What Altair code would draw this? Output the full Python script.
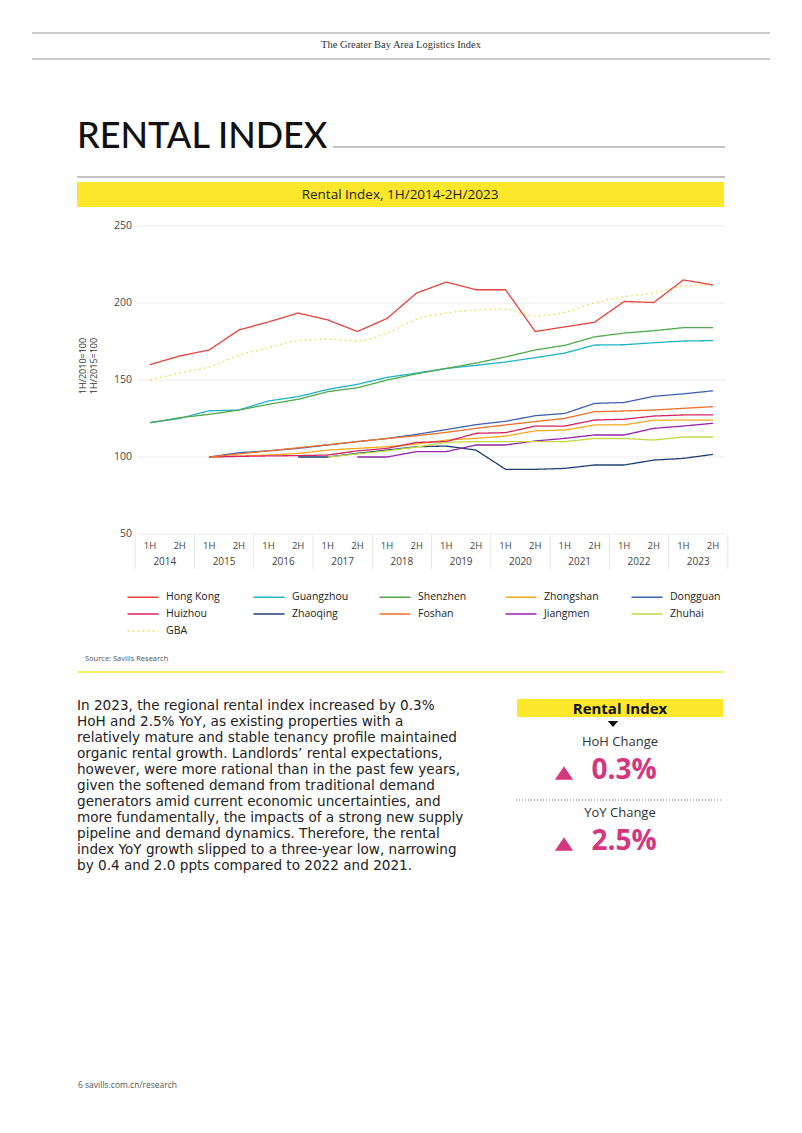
import altair as alt
import pandas as pd

# ---------------- data ----------------
halves = ["1H", "2H"] * 10
years = ["2014", "2015", "2016", "2017", "2018", "2019", "2020", "2021", "2022", "2023"]
y_ticks = [50, 100, 150, 200, 250]

series_names = ["Hong Kong", "Guangzhou", "Shenzhen", "Zhongshan", "Dongguan",
                "Huizhou", "Zhaoqing", "Foshan", "Jiangmen", "Zhuhai", "GBA"]
series_colors = ["#E5433B", "#1EB4C6", "#4FAA4C", "#F6A81C", "#3D62B0",
                 "#D8235F", "#1F3F73", "#F1702A", "#9326A8", "#C3D843", "#F3E06A"]

N = None
hong_kong = [160, 165.6, 169.5, 182.5, 187.7, 193.5, 189, 181.5, 190, 206.5,
             213.6, 208.6, 208.6, 181.5, 184.5, 187.5, 201, 200.3, 215, 211.7]
guangzhou = [122.3, 125, 130, 130.5, 136.4, 139.2, 143.9, 147.2, 151.7, 154.5,
             157.5, 159.5, 161.7, 164.5, 167.5, 172.7, 172.9, 174.2, 175.3, 175.6]
shenzhen = [122.3, 125.5, 127.7, 130.5, 134.2, 137.5, 142.4, 145, 150, 154,
            157.5, 161, 165, 169.5, 172.5, 178, 180.5, 182, 184, 184]
zhongshan = [N, N, 100, 100.6, 101.3, 102.3, 104.5, 105.6, 106.7, 108.4,
             111, 112.1, 113.6, 117, 117.5, 120.8, 120.8, 124, 124, 124]
dongguan = [N, N, 100, 102.8, 104, 105.6, 107.8, 110, 112, 114.7,
            117.8, 121, 123.2, 126.8, 128.3, 134.8, 135.4, 139.4, 141, 143]
huizhou = [N, N, 100, 100.4, 100.7, 100.9, 101.3, 104, 105.6, 109.5,
           110, 115.4, 115.8, 120.1, 120.1, 124, 124.5, 126.6, 127.3, 127.3]
zhaoqing = [N, N, N, N, N, 100, 100, 102.4, 104.5, 106.7,
            107.1, 104.5, 92, 92, 92.6, 94.8, 94.8, 98, 99.1, 101.7]
foshan = [N, N, 100, 102, 104, 106, 108, 110, 112, 113.8,
          116, 118.6, 120.8, 123, 125.1, 129.4, 129.9, 130.5, 131.6, 132.7]
jiangmen = [N, N, N, N, N, N, N, 100, 100, 103.5,
            103.5, 107.8, 107.8, 110.4, 112.1, 114.3, 114.3, 118.6, 120.1, 121.9]
zhuhai = [N, N, N, N, N, N, 100, 102, 104, 106.5,
          109.5, 110, 110, 110, 110, 112, 112, 111, 113, 113]
gba = [150, 154.5, 158.5, 166, 171, 175.5, 176.5, 175.3, 180.5, 189.5,
       193.5, 195.5, 196, 191.5, 194, 200, 204, 206.5, 211, 211.7]

all_series = [hong_kong, guangzhou, shenzhen, zhongshan, dongguan,
              huizhou, zhaoqing, foshan, jiangmen, zhuhai, gba]

body_lines = [
    "In 2023, the regional rental index increased by 0.3%",
    "HoH and 2.5% YoY, as existing properties with a",
    "relatively mature and stable tenancy profile maintained",
    "organic rental growth. Landlords\u2019 rental expectations,",
    "however, were more rational than in the past few years,",
    "given the softened demand from traditional demand",
    "generators amid current economic uncertainties, and",
    "more fundamentally, the impacts of a strong new supply",
    "pipeline and demand dynamics. Therefore, the rental",
    "index YoY growth slipped to a three-year low, narrowing",
    "by 0.4 and 2.0 ppts compared to 2022 and 2021.",
]

# ---------------- tables ----------------
rows = []
for name, vals in zip(series_names, all_series):
    for i, v in enumerate(vals):
        if v is not None:
            rows.append({"idx": i, "series": name, "value": v})
lines_df = pd.DataFrame(rows)
half_df = pd.DataFrame({"idx": list(range(len(halves))), "half": halves})
year_df = pd.DataFrame({"yi": list(range(len(years))), "year": years})
tick_df = pd.DataFrame({"v": y_ticks})
one = pd.DataFrame({"a": [0]})

FONT = "Open Sans"
OX, OY = 8, 8  # page margin offset

xs = alt.Scale(domain=[0, 19], range=[150 - OX, 713 - OX], nice=False, zero=False)
ys = alt.Scale(domain=[50, 250], range=[534 - OY, 226 - OY], nice=False, zero=False)


def T(s, x, y, size, color="#222", align="left", weight="normal", font=FONT, angle=0):
    kw = dict(fontSize=size, color=color, align=align, baseline="middle",
              fontWeight=weight, font=font)
    if angle:
        kw["angle"] = angle
    return alt.Chart(one).mark_text(**kw).encode(
        x=alt.value(x - OX), y=alt.value(y - OY), text=alt.value(s))


def R(x1, x2, y1, color="#999", width=1.2, dash=None):
    kw = dict(color=color, strokeWidth=width)
    if dash:
        kw["strokeDash"] = dash
    return alt.Chart(one).mark_rule(**kw).encode(
        x=alt.value(x1 - OX), x2=alt.value(x2 - OX), y=alt.value(y1 - OY))


def BOX(x1, x2, y1, y2, color):
    return alt.Chart(one).mark_rect(color=color).encode(
        x=alt.value(x1 - OX), x2=alt.value(x2 - OX),
        y=alt.value(y1 - OY), y2=alt.value(y2 - OY))


YELLOW = "#FCE72B"
PINK = "#D4367F"

layers = []
# header
layers += [R(32, 770, 33), R(32, 770, 59),
           T("The Greater Bay Area Logistics Index", 401, 45, 10.5, "#333", "center",
             font="Liberation Serif")]
# big title
layers += [T("RENTAL INDEX", 77, 137, 36, "#111", weight=500, font="Lato"),
           R(333, 725, 147, "#888", 1.2), R(77, 725, 177, "#888", 1.2)]
# chart title band
layers += [BOX(77, 724, 182, 207, YELLOW),
           T("Rental Index, 1H/2014-2H/2023", 400, 194.5, 13.5, "#222", "center")]

# gridlines + y labels
layers.append(alt.Chart(tick_df).mark_rule(color="#EBEBEB", strokeWidth=1).encode(
    y=alt.Y("v:Q", scale=ys, axis=None), x=alt.value(138 - OX), x2=alt.value(725 - OX)))
layers.append(alt.Chart(tick_df).mark_text(align="right", baseline="middle", fontSize=10.5,
                                           color="#444", font=FONT).encode(
    y=alt.Y("v:Q", scale=ys, axis=None), x=alt.value(132 - OX), text="v:Q"))
layers += [T("1H/2010=100", 83, 366, 9, "#333", "center", angle=270),
           T("1H/2015=100", 94, 366, 9, "#333", "center", angle=270)]

# x axis labels
layers.append(alt.Chart(half_df).mark_text(baseline="middle", fontSize=9.5, color="#444",
                                           font=FONT).encode(
    x=alt.X("idx:Q", scale=xs, axis=None), y=alt.value(546 - OY), text="half:N"))
layers.append(alt.Chart(year_df).transform_calculate(mid="datum.yi * 2 + 0.5").mark_text(
    baseline="middle", fontSize=10, color="#444", font=FONT).encode(
    x=alt.X("mid:Q", scale=xs, axis=None), y=alt.value(562 - OY), text="year:N"))
layers.append(alt.Chart(pd.DataFrame({"yi": list(range(len(years) + 1))}))
              .transform_calculate(sep="datum.yi * 2 - 0.5")
              .mark_rule(color="#E6E6E6", strokeWidth=1).encode(
    x=alt.X("sep:Q", scale=xs, axis=None), y=alt.value(535 - OY), y2=alt.value(569 - OY)))

# lines
dash_range = [[1, 0]] * 10 + [[2, 3]]
legend = alt.Legend(orient="none", legendX=137 - OX, legendY=591 - OY, columns=5,
                    direction="horizontal",
                    title=None, symbolType="M-3,0L3,0", symbolSize=107, symbolStrokeWidth=1.5,
                    labelFont=FONT, labelFontSize=10.5, labelColor="#222", labelOffset=17,
                    gridAlign="all", columnPadding=27, rowPadding=5, padding=0)
color_enc = alt.Color("series:N", scale=alt.Scale(domain=series_names, range=series_colors),
                      legend=legend, sort=series_names)
dash_enc = alt.StrokeDash("series:N", scale=alt.Scale(domain=series_names, range=dash_range),
                          legend=legend, sort=series_names)
base_lines = alt.Chart(lines_df).encode(
    x=alt.X("idx:Q", scale=xs, axis=None),
    y=alt.Y("value:Q", scale=ys, axis=None),
    color=color_enc, strokeDash=dash_enc, detail="series:N")
layers.append(base_lines.transform_filter("datum.series == 'GBA'")
              .mark_line(strokeWidth=1.4, interpolate="monotone"))
layers.append(base_lines.transform_filter("datum.series != 'GBA'")
              .mark_line(strokeWidth=1.3))

# source + separator
layers += [T("Source: Savills Research", 85, 659, 7.5, "#555"),
           R(77, 724, 672, YELLOW, 1.5)]

# body text
for i, s in enumerate(body_lines):
    layers.append(T(s, 77, 706 + i * 16, 13.6, "#222", font="DejaVu Sans"))

# right panel
layers += [BOX(517, 723, 699, 717, YELLOW),
           T("Rental Index", 620, 708.5, 15, "#111", "center", weight="bold"),
           alt.Chart(one).mark_point(shape="M-1,-0.55L1,-0.55L0,0.55Z", filled=True, size=110,
                                     color="#111", opacity=1).encode(
               x=alt.value(613 - OX), y=alt.value(724 - OY)),
           T("HoH Change", 620, 742, 13, "#333", "center"),
           alt.Chart(one).mark_point(shape="M-1,0.75L1,0.75L0,-0.75Z", filled=True, size=330,
                                     color=PINK, opacity=1).encode(
               x=alt.value(564 - OX), y=alt.value(773 - OY)),
           T("0.3%", 624, 771, 28, PINK, "center", weight="bold"),
           R(516, 723, 800, "#777", 1, [1, 2]),
           T("YoY Change", 620, 813, 13, "#333", "center"),
           alt.Chart(one).mark_point(shape="M-1,0.75L1,0.75L0,-0.75Z", filled=True, size=330,
                                     color=PINK, opacity=1).encode(
               x=alt.value(564 - OX), y=alt.value(844 - OY)),
           T("2.5%", 624, 842, 28, PINK, "center", weight="bold")]

# footer
layers.append(T("6  savills.com.cn/research", 78, 1085, 8.5, "#555"))

chart = alt.layer(*layers).properties(
    width=786, height=1117, autosize=alt.AutoSizeParams(type="none"), padding=0,
    background="white"
).configure_view(strokeWidth=0)

chart.save("out.html", embed_options={"renderer": "svg", "actions": False})
